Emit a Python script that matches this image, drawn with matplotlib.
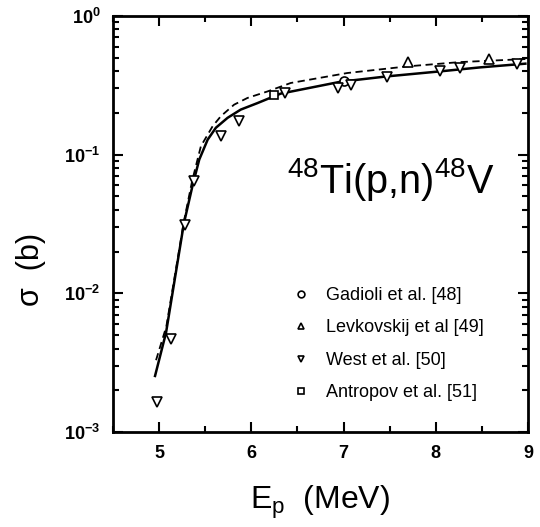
import matplotlib
matplotlib.use("Agg")
import matplotlib.pyplot as plt
from matplotlib.ticker import FixedLocator, FixedFormatter, LogLocator, NullFormatter, MultipleLocator

plt.rcParams["font.family"] = ["Liberation Sans", "DejaVu Sans"]
plt.rcParams["mathtext.fontset"] = "custom"
plt.rcParams["mathtext.rm"] = "Liberation Sans"
plt.rcParams["mathtext.bf"] = "Liberation Sans:bold"

# calculated excitation functions
calc_x = [4.957, 5.076, 5.27, 5.364, 5.436, 5.527, 5.616, 5.743, 5.886, 6.067, 6.246, 6.319, 6.968, 7.47, 8.05, 8.48, 8.97]
calc_y = [0.00254, 0.0052, 0.032, 0.060, 0.092, 0.128, 0.156, 0.184, 0.211, 0.235, 0.263, 0.275, 0.335, 0.366, 0.398, 0.425, 0.452]
calc2_x = [4.968, 5.08, 5.27, 5.36, 5.454, 5.581, 5.67, 5.814, 5.959, 6.175, 6.427, 7.04, 7.69, 8.26, 8.97]
calc2_y = [0.0033, 0.0058, 0.033, 0.065, 0.115, 0.160, 0.189, 0.229, 0.256, 0.285, 0.328, 0.387, 0.432, 0.464, 0.488]

# experimental data
gadioli_x = [7.0]
gadioli_y = [0.337]
levkovskij_x = [7.70, 8.58]
levkovskij_y = [0.461, 0.488]
west_x = [4.98, 5.13, 5.28, 5.375, 5.67, 5.87, 6.37, 6.94, 7.08, 7.47, 8.05, 8.26, 8.88]
west_y = [0.00165, 0.0047, 0.0313, 0.064, 0.135, 0.174, 0.278, 0.302, 0.319, 0.362, 0.398, 0.42, 0.452]
antropov_x = [6.25]
antropov_y = [0.27]

fig = plt.figure(figsize=(5.4, 5.27), dpi=100)
ax = fig.add_axes([0.209, 0.180, 0.769, 0.790])

ax.plot(calc_x, calc_y, color="black", lw=1.8)
ax.plot(calc2_x, calc2_y, color="black", lw=1.3, ls=(0, (4, 2.5)))

mk = dict(ls="none", mfc="white", mec="black", mew=1.2, ms=6.5)
ax.plot(gadioli_x, gadioli_y, marker="o", label="Gadioli et al. [48]", **mk)
ax.plot(levkovskij_x, levkovskij_y, marker="^", label="Levkovskij et al [49]", **mk)
ax.plot(west_x, west_y, marker="v", label="West et al. [50]", **mk)
ax.plot(antropov_x, antropov_y, marker="s", label="Antropov et al. [51]", **dict(mk, ms=5.5))

ax.set_yscale("log")
ax.set_xlim(4.5, 9)
ax.set_ylim(1e-3, 1)

ax.xaxis.set_major_locator(MultipleLocator(1))
ax.xaxis.set_minor_locator(MultipleLocator(0.5))
ax.yaxis.set_major_locator(FixedLocator([1e-3, 1e-2, 1e-1, 1]))
ax.yaxis.set_major_formatter(FixedFormatter([r"$\mathbf{10^{-3}}$", r"$\mathbf{10^{-2}}$",
                                             r"$\mathbf{10^{-1}}$", r"$\mathbf{10^{0}}$"]))
ax.yaxis.set_minor_locator(LogLocator(base=10, subs=range(2, 10)))
ax.yaxis.set_minor_formatter(NullFormatter())

ax.tick_params(which="both", direction="in", top=True, right=True, width=1.5)
ax.tick_params(which="major", length=7, labelsize=13, pad=9)
ax.tick_params(which="minor", length=4)
for lab in ax.get_xticklabels():
    lab.set_fontweight("bold")
for s in ax.spines.values():
    s.set_linewidth(2)

ax.set_xlabel(r"E$_\mathregular{p}$  (MeV)", fontsize=23, labelpad=16)
ax.set_ylabel("σ  (b)", fontsize=22)
ax.yaxis.set_label_coords(-0.16, 0.39)

ax.text(0.42, 0.575, r"$^{48}$Ti(p,n)$^{48}$V", transform=ax.transAxes,
        fontsize=28.5, va="baseline", ha="left")

ax.legend(loc="upper left", bbox_to_anchor=(0.405, 0.37), frameon=False,
          fontsize=13, markerscale=0.75, handlelength=1.2, handletextpad=0.8,
          labelspacing=0.85, borderpad=0)

fig.savefig("out.png", dpi=100)
